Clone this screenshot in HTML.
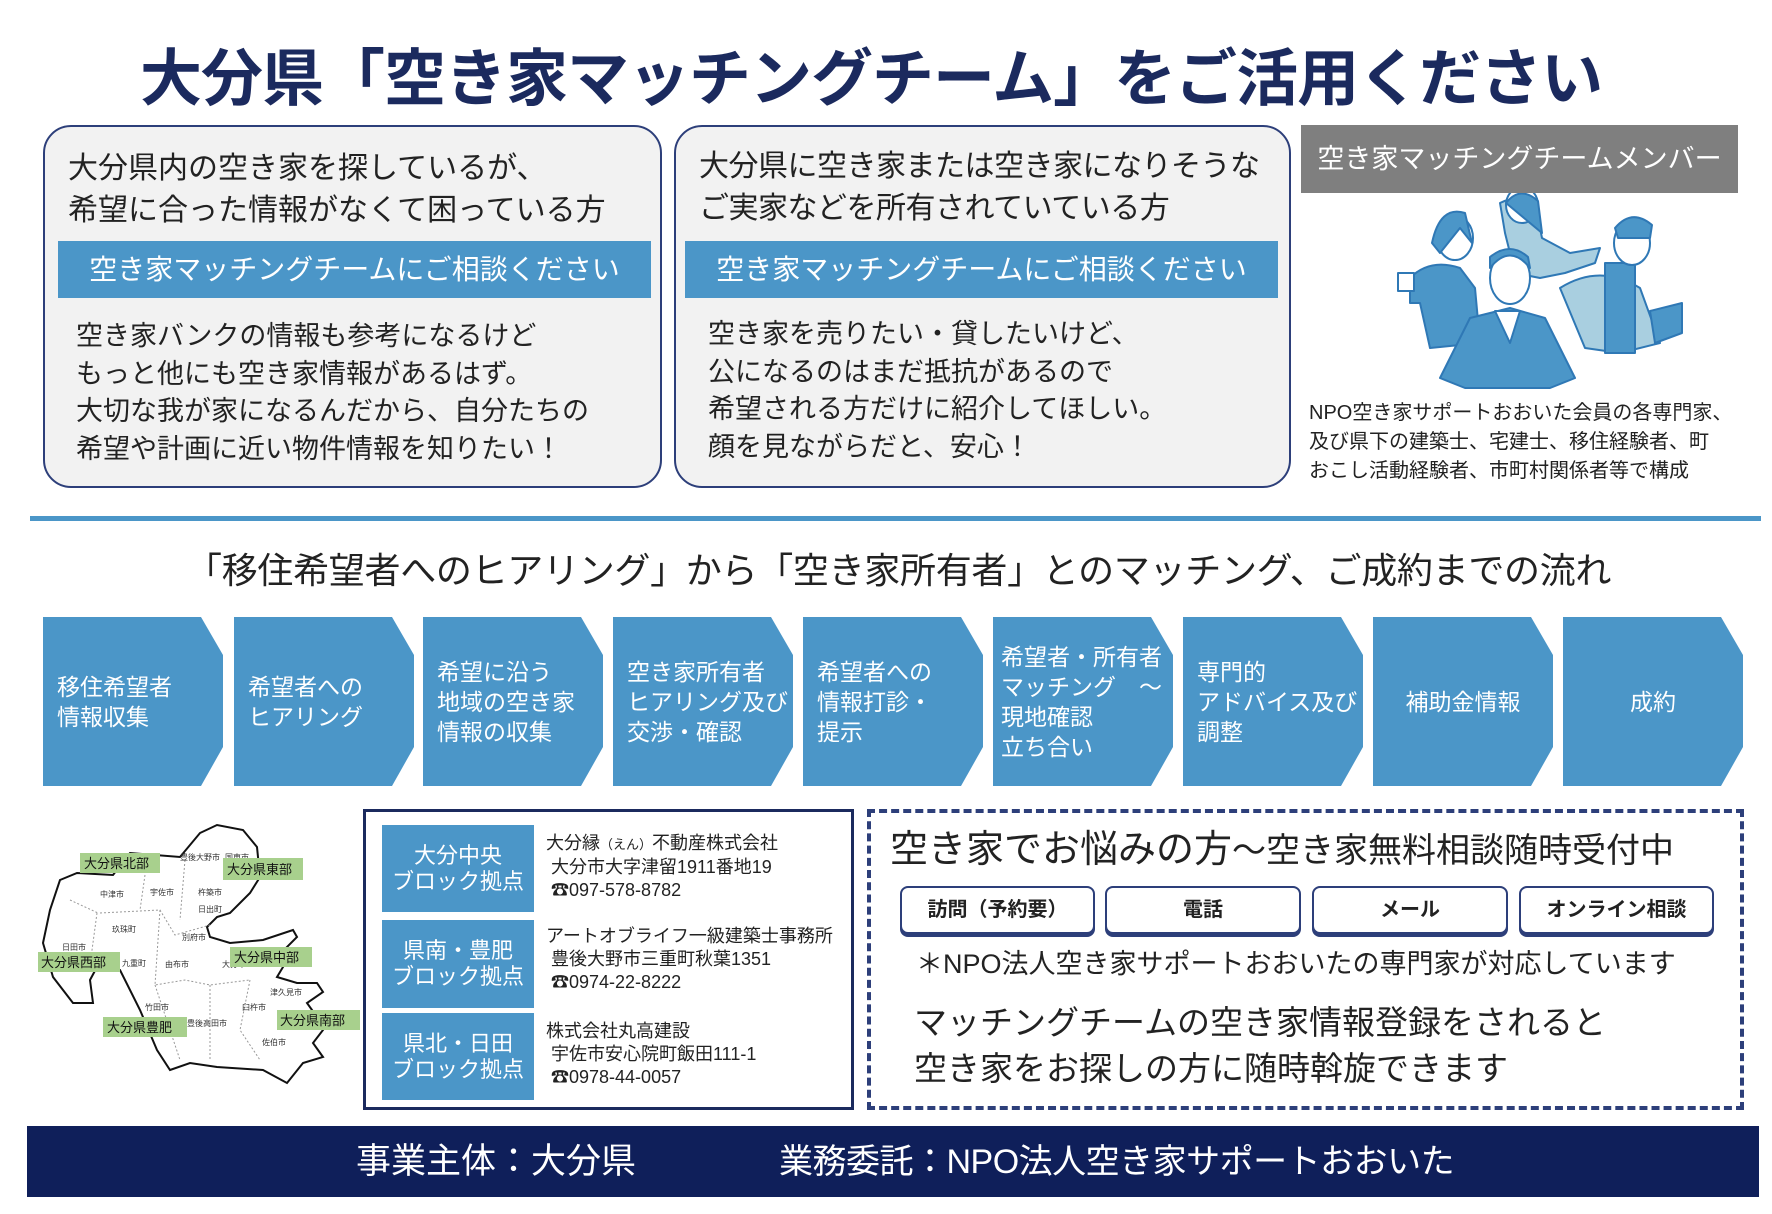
<!DOCTYPE html>
<html><head><meta charset="utf-8">
<style>
*{margin:0;padding:0;box-sizing:border-box}
body{width:1772px;height:1214px;background:#fff;position:relative;overflow:hidden;font-family:"Liberation Sans","Noto Sans CJK JP",sans-serif;color:#222}
.a{position:absolute;white-space:nowrap}
.box{position:absolute;border:2px solid #2d3f7a;border-radius:28px;background:#f2f2f2}
.bar{position:absolute;background:#4b96c8;color:#fff;font-size:28px;line-height:57px;text-align:center}
.flow{position:absolute;top:617px;width:180px;height:169px;background:#4b96c8;color:#fff;font-size:23px;line-height:30px;display:flex;align-items:center;padding-left:14px;clip-path:polygon(0 0,158px 0,180px 38px,180px 130px,158px 169px,0 169px)}
.lbl{position:absolute;left:382px;width:152px;background:#4b96c8;color:#fff;font-size:22px;line-height:26px;text-align:center;display:flex;align-items:center;justify-content:center}
.ct{position:absolute;left:546px;font-size:18px;line-height:23px;white-space:nowrap}
.btn{position:absolute;top:886px;height:48px;border:2px solid #2d3f7a;border-radius:8px;background:#fff;font-size:20px;font-weight:bold;text-align:center;line-height:44px;box-shadow:0 3px 0 #2d3f7a}
</style></head><body>

<div class="a" style="left:140px;top:28px;font-size:62px;font-weight:bold;color:#1b2a5e;letter-spacing:-1px">大分県「空き家マッチングチーム」をご活用ください</div>

<div class="box" style="left:43px;top:125px;width:619px;height:363px"></div>
<div class="a" style="left:68px;top:148px;font-size:30px;line-height:42px">大分県内の空き家を探しているが、<br>希望に合った情報がなくて困っている方</div>
<div class="bar" style="left:58px;top:241px;width:593px">空き家マッチングチームにご相談ください</div>
<div class="a" style="left:76px;top:318px;font-size:27px;line-height:37.5px">空き家バンクの情報も参考になるけど<br>もっと他にも空き家情報があるはず。<br>大切な我が家になるんだから、自分たちの<br>希望や計画に近い物件情報を知りたい！</div>

<div class="box" style="left:674px;top:125px;width:617px;height:363px"></div>
<div class="a" style="left:699px;top:146px;font-size:30px;line-height:42px;letter-spacing:-0.5px">大分県に空き家または空き家になりそうな<br>ご実家などを所有されていている方</div>
<div class="bar" style="left:685px;top:241px;width:593px">空き家マッチングチームにご相談ください</div>
<div class="a" style="left:708px;top:316px;font-size:27px;line-height:37.5px">空き家を売りたい・貸したいけど、<br>公になるのはまだ抵抗があるので<br>希望される方だけに紹介してほしい。<br>顔を見ながらだと、安心！</div>

<div class="a" style="left:1301px;top:125px;width:437px;height:68px;background:#7f7f7f;color:#fff;font-size:27px;line-height:68px;text-align:center">空き家マッチングチームメンバー</div>
<svg class="a" style="left:1370px;top:193px" width="320" height="200" viewBox="0 0 320 200">
<g stroke="#2f78b5" stroke-width="2" stroke-linejoin="round">
<path d="M130 10 Q150 0 165 10 L172 45 L200 60 L230 55 L225 70 L195 80 L170 85 L145 80 L135 40 Z" fill="#a9cfe0"/>
<ellipse cx="152" cy="12" rx="16" ry="18" fill="#fff"/>
<path d="M136 10 Q150 -8 168 8 L172 40 L160 30 Z" fill="#4b96c8"/>
<path d="M190 95 Q230 70 270 95 L290 150 L250 160 L215 155 Z" fill="#a9cfe0"/>
<rect x="235" y="70" width="30" height="90" fill="#4b96c8"/>
<ellipse cx="262" cy="50" rx="18" ry="22" fill="#fff"/>
<path d="M245 35 Q262 15 282 32 L280 45 L248 45 Z" fill="#4b96c8"/>
<path d="M280 118 L312 110 L312 140 L285 150 Z" fill="#4b96c8"/>
<path d="M40 85 Q60 65 90 75 L105 95 L110 150 L60 155 L50 110 L40 110 Z" fill="#4b96c8"/>
<ellipse cx="85" cy="45" rx="18" ry="22" fill="#fff"/>
<path d="M62 50 Q70 12 95 20 L102 50 L90 35 L70 60 Z" fill="#4b96c8"/>
<rect x="28" y="80" width="16" height="18" fill="#fff"/>
<path d="M70 185 L100 125 L140 115 L175 125 L205 185 L180 195 L95 195 Z" fill="#4b96c8"/>
<path d="M125 118 L150 118 L140 150 Z" fill="#fff"/>
<ellipse cx="140" cy="85" rx="20" ry="26" fill="#fff"/>
<path d="M120 75 Q140 50 160 75 L158 64 Q140 48 120 64 Z" fill="#4b96c8"/>
</g></svg>
<div class="a" style="left:1309px;top:399px;font-size:20px;line-height:29px">NPO空き家サポートおおいた会員の各専門家、<br>及び県下の建築士、宅建士、移住経験者、町<br>おこし活動経験者、市町村関係者等で構成</div>

<div class="a" style="left:30px;top:516px;width:1731px;height:5px;background:#4b96c8"></div>

<div class="a" style="left:186px;top:546px;font-size:36px;line-height:50px;letter-spacing:-0.3px">「移住希望者へのヒアリング」から「空き家所有者」とのマッチング、ご成約までの流れ</div>

<div class="flow" style="left:43px"><span>移住希望者<br>情報収集</span></div>
<div class="flow" style="left:234px"><span>希望者への<br>ヒアリング</span></div>
<div class="flow" style="left:423px"><span>希望に沿う<br>地域の空き家<br>情報の収集</span></div>
<div class="flow" style="left:613px"><span>空き家所有者<br>ヒアリング及び<br>交渉・確認</span></div>
<div class="flow" style="left:803px"><span>希望者への<br>情報打診・<br>提示</span></div>
<div class="flow" style="left:993px;padding-left:8px"><span>希望者・所有者<br>マッチング　～<br>現地確認<br>立ち合い</span></div>
<div class="flow" style="left:1183px"><span>専門的<br>アドバイス及び<br>調整</span></div>
<div class="flow" style="left:1373px;justify-content:center;padding-left:0"><span>補助金情報</span></div>
<div class="flow" style="left:1563px;justify-content:center;padding-left:0"><span>成約</span></div>

<svg class="a" style="left:30px;top:810px" width="330" height="300" viewBox="0 0 330 300" font-family="Liberation Sans, Noto Sans CJK JP, sans-serif">
<path d="M30 70 L47 63 L83 65 L100 43 L150 47 L170 23 L187 15 L213 20 L227 37 L230 67 L220 83 L200 103 L187 107 L177 117 L180 127 L200 133 L233 130 L263 120 L267 127 L247 147 L253 157 L247 167 L267 173 L287 173 L293 182 L277 193 L287 207 L293 220 L283 233 L293 247 L273 253 L257 273 L233 260 L187 257 L160 253 L140 260 L127 240 L110 200 L90 160 L67 157 L60 170 L63 193 L43 193 L23 167 L13 133 L20 100 Z" fill="#fff" stroke="#111" stroke-width="2"/>
<g stroke="#999" stroke-width="1" stroke-dasharray="2 2" fill="none">
<path d="M70 103 L130 100 L145 125 L180 115"/><path d="M115 65 L110 100"/><path d="M155 50 L150 110"/><path d="M67 103 L60 155"/><path d="M130 100 L125 175 L155 170 L180 175 L220 170"/><path d="M40 90 L68 103"/><path d="M125 175 L150 250"/><path d="M220 170 L210 220 L230 250"/><path d="M180 175 L180 250"/></g>
<g font-size="8" fill="#333">
<text x="150" y="50">豊後大野市</text><text x="195" y="50">国東市</text><text x="70" y="87">中津市</text><text x="120" y="85">宇佐市</text><text x="168" y="85">杵築市</text><text x="168" y="102">日出町</text><text x="82" y="122">玖珠町</text><text x="152" y="130">別府市</text><text x="32" y="140">日田市</text><text x="92" y="156">九重町</text><text x="135" y="157">由布市</text><text x="192" y="157">大分市</text><text x="240" y="185">津久見市</text><text x="115" y="200">竹田市</text><text x="157" y="216">豊後高田市</text><text x="212" y="200">臼杵市</text><text x="232" y="235">佐伯市</text></g>
<g font-size="13" fill="#111">
<rect x="50" y="43" width="80" height="20" fill="#a8d08d"/><text x="54" y="58">大分県北部</text>
<rect x="193" y="48" width="80" height="22" fill="#a8d08d"/><text x="197" y="64">大分県東部</text>
<rect x="8" y="142" width="82" height="20" fill="#a8d08d"/><text x="11" y="157">大分県西部</text>
<rect x="200" y="137" width="82" height="20" fill="#a8d08d"/><text x="204" y="152">大分県中部</text>
<rect x="73" y="207" width="84" height="20" fill="#a8d08d"/><text x="77" y="222">大分県豊肥</text>
<rect x="247" y="200" width="83" height="20" fill="#a8d08d"/><text x="250" y="215">大分県南部</text></g>
</svg>

<div class="a" style="left:363px;top:809px;width:491px;height:301px;border:3px solid #1b2a5e"></div>
<div class="lbl" style="top:825px;height:87px">大分中央<br>ブロック拠点</div>
<div class="lbl" style="top:920px;height:88px">県南・豊肥<br>ブロック拠点</div>
<div class="lbl" style="top:1013px;height:87px">県北・日田<br>ブロック拠点</div>
<div class="ct" style="top:832px">大分縁<span style="font-size:13px">（えん）</span>不動産株式会社<br>&nbsp;大分市大字津留1911番地19<br>&nbsp;☎097-578-8782</div>
<div class="ct" style="top:925px">アートオブライフ一級建築士事務所<br>&nbsp;豊後大野市三重町秋葉1351<br>&nbsp;☎0974-22-8222</div>
<div class="ct" style="top:1020px">株式会社丸高建設<br>&nbsp;宇佐市安心院町飯田111-1<br>&nbsp;☎0978-44-0057</div>

<div class="a" style="left:867px;top:809px;width:877px;height:301px;border:4px dashed #2d3f7a"></div>
<div class="a" style="left:890px;top:826px;font-size:38px;line-height:48px">空き家でお悩みの方<span style="font-size:34px">～空き家無料相談随時受付中</span></div>
<div class="btn" style="left:900px;width:195px">訪問（予約要）</div>
<div class="btn" style="left:1105px;width:196px">電話</div>
<div class="btn" style="left:1312px;width:196px">メール</div>
<div class="btn" style="left:1519px;width:195px">オンライン相談</div>
<div class="a" style="left:916px;top:946px;font-size:27px;line-height:36px">＊NPO法人空き家サポートおおいたの専門家が対応しています</div>
<div class="a" style="left:914px;top:1000px;font-size:33px;line-height:46px">マッチングチームの空き家情報登録をされると<br>空き家をお探しの方に随時斡旋できます</div>

<div class="a" style="left:27px;top:1126px;width:1732px;height:71px;background:#0f1f5a"></div>
<div class="a" style="left:356px;top:1140px;font-size:35px;line-height:44px;color:#fff">事業主体：大分県</div>
<div class="a" style="left:779px;top:1140px;font-size:34px;line-height:44px;color:#fff;letter-spacing:-0.5px">業務委託：NPO法人空き家サポートおおいた</div>
</body></html>
